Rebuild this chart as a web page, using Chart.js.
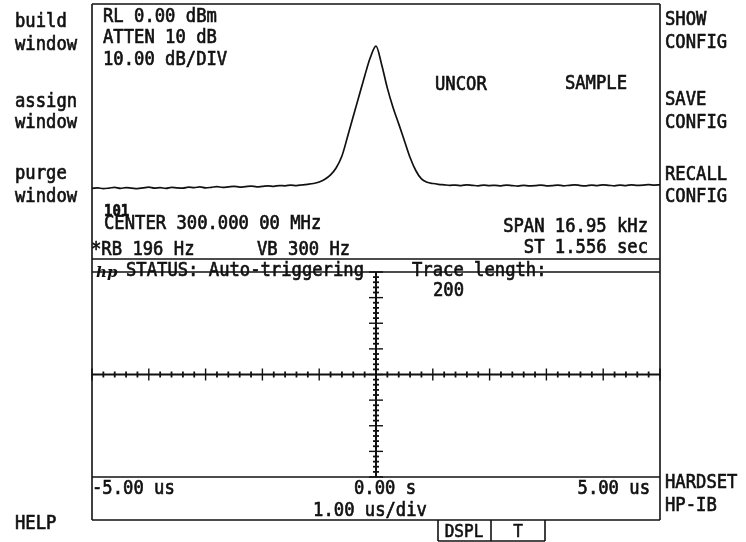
<!DOCTYPE html>
<html>
<head>
<meta charset="utf-8">
<script src="https://cdn.jsdelivr.net/npm/chart.js@4.4.1/dist/chart.umd.min.js"></script>
<style>
  html, body { margin: 0; padding: 0; background: #fff; }
  #wrap { position: relative; width: 746px; height: 542px; }
  #wrap canvas { position: absolute; left: 0; top: 0; }
</style>
</head>
<body>
<div id="wrap">
  <canvas id="specChart" width="746" height="542"></canvas>
  <canvas id="scopeChart" width="746" height="542"></canvas>
</div>
<script>
// spectrum analyzer settings
const centerMHz = 300.0;
const spanKHz = 16.95;
const refLevel = 0;       // dBm at top of screen
const dbPerDiv = 10;
const numDivs = 10;

// trace, dBm, 101 points across the span
const traceDbm = [
  -72.3, -72.1, -72.4, -72.2, -71.9, -72.3, -72.0, -72.2, -72.4, -72.1,
  -71.8, -72.2, -72.0, -72.3, -71.9, -72.1, -72.2, -71.8, -72.0, -71.7,
  -72.1, -71.9, -71.6, -71.9, -71.7, -71.5, -71.8, -71.6, -71.4, -71.7,
  -71.5, -71.3, -71.5, -71.2, -71.3, -71.0, -71.2, -70.9, -70.7, -70.4,
  -69.8, -68.7, -67.0, -64.2, -59.6, -52.0, -44.0, -36.2, -28.3, -21.0,
  -16.5,
  -23.8, -33.0, -40.6, -47.0, -53.6, -60.2, -65.3, -68.6, -69.9, -70.4,
  -70.7, -70.9, -71.1, -71.0, -71.2, -70.9, -71.1, -71.3, -71.0, -71.2,
  -71.1, -71.3, -71.0, -71.2, -71.4, -71.1, -71.3, -71.2, -71.0, -71.3,
  -71.2, -71.0, -71.3, -71.1, -70.9, -71.2, -71.3, -71.0, -71.2, -70.9,
  -71.1, -71.3, -71.0, -71.2, -70.9, -71.1, -71.0, -70.8, -71.0, -70.9
];
const mid = (traceDbm.length - 1) / 2;
const freqLabels = traceDbm.map((_, i) =>
  (centerMHz + (i - mid) * spanKHz / (traceDbm.length - 1) / 1000).toFixed(6));

// scope (time) window
const timeMin = -5, timeMax = 5;    // us
const vertMin = -4, vertMax = 4;    // divisions
const subDiv = 0.2;
const timeTickValues = [-5, 0, 5];
const timeTickLabels = ['-5.00 us', '0.00 s', '5.00 us'];

const FONT = '"DejaVu Sans Mono", "Liberation Mono", monospace';
const INK = '#111';

// plotter-ish text: monospace, a little taller than wide
function put(ctx, s, x, y, align, size, weight) {
  ctx.save();
  ctx.font = (weight || 'normal') + ' ' + (size || 17.2) + 'px ' + FONT;
  ctx.textAlign = align || 'left';
  ctx.translate(x, y);
  ctx.scale(1, 1.1);
  ctx.lineWidth = 0.6;
  ctx.fillText(s, 0, 0);
  ctx.strokeText(s, 0, 0);
  ctx.restore();
}

function seg(ctx, x1, y1, x2, y2, w) {
  ctx.lineWidth = w || 1.6;
  ctx.beginPath();
  ctx.moveTo(x1, y1);
  ctx.lineTo(x2, y2);
  ctx.stroke();
}

const screenPlugin = {
  id: 'screen',
  afterDraw(chart) {
    const ctx = chart.ctx;
    const xs = chart.scales.x, ys = chart.scales.y;
    const a = chart.chartArea;
    ctx.save();
    ctx.strokeStyle = INK;
    ctx.fillStyle = INK;
    ctx.textBaseline = 'alphabetic';

    // outer frame and panel separators
    seg(ctx, a.left, 4, a.left, 520);
    seg(ctx, a.right, 4, a.right, 520);
    seg(ctx, a.left, 4, a.right, 4);
    seg(ctx, a.left, 259, a.right, 259);
    seg(ctx, a.left, a.bottom, a.right, a.bottom);
    seg(ctx, a.left, 520, a.right, 520);

    // softkey box at bottom
    seg(ctx, 438, 520, 438, 541);
    seg(ctx, 491, 520, 491, 541);
    seg(ctx, 545, 520, 545, 541);
    seg(ctx, 438, 541, 545, 541);

    // center cross with tick marks
    const x0 = xs.getPixelForValue(0), y0 = ys.getPixelForValue(0);
    seg(ctx, a.left, y0, a.right, y0, 2);
    seg(ctx, x0, a.top, x0, a.bottom, 2);
    for (let v = timeMin; v <= timeMax + 1e-9; v += subDiv) {
      const major = Math.abs(v - Math.round(v)) < 1e-6;
      const len = major ? 6 : 3;
      const px = xs.getPixelForValue(v);
      seg(ctx, px, y0 - len, px, y0 + len, major ? 1.4 : 1.8);
    }
    for (let v = vertMin; v <= vertMax + 1e-9; v += subDiv) {
      const major = Math.abs(v - Math.round(v)) < 1e-6;
      const len = major ? 7 : 3;
      const py = ys.getPixelForValue(v);
      seg(ctx, x0 - len, py, x0 + len, py, major ? 1.4 : 1.8);
    }

    // time axis labels
    timeTickValues.forEach((v, i) => {
      const px = xs.getPixelForValue(v);
      if (i === 0) put(ctx, timeTickLabels[i], px, 494, 'left');
      else if (i === timeTickValues.length - 1) put(ctx, timeTickLabels[i], px - 10, 494, 'right');
      else put(ctx, timeTickLabels[i], px - 22, 494, 'left');
    });
    put(ctx, '1.00 us/div', 370, 516, 'center');

    // softkeys
    put(ctx, 'build', 15, 27);
    put(ctx, 'window', 15, 50);
    put(ctx, 'assign', 15, 107);
    put(ctx, 'window', 15, 128);
    put(ctx, 'purge', 15, 179);
    put(ctx, 'window', 15, 202);
    put(ctx, 'HELP', 15, 529);
    put(ctx, 'SHOW', 665, 25);
    put(ctx, 'CONFIG', 665, 48);
    put(ctx, 'SAVE', 665, 105);
    put(ctx, 'CONFIG', 665, 128);
    put(ctx, 'RECALL', 665, 180);
    put(ctx, 'CONFIG', 665, 202);
    put(ctx, 'HARDSET', 665, 488);
    put(ctx, 'HP-IB', 665, 511);

    // analyzer annotations
    put(ctx, 'RL ' + refLevel.toFixed(2) + ' dBm', 103, 22);
    put(ctx, 'ATTEN 10 dB', 103, 43);
    put(ctx, dbPerDiv.toFixed(2) + ' dB/DIV', 103, 65);
    put(ctx, 'UNCOR', 435, 90);
    put(ctx, 'SAMPLE', 627, 89, 'right');
    put(ctx, '101', 104, 216, 'left', 14, 'bold');
    put(ctx, 'CENTER 300.000 00 MHz', 104, 229);
    put(ctx, 'SPAN ' + spanKHz.toFixed(2) + ' kHz', 648, 232, 'right');
    put(ctx, '*RB 196 Hz', 91, 255);
    put(ctx, 'VB 300 Hz', 257, 255);
    put(ctx, 'ST 1.556 sec', 648, 253, 'right');

    // status line
    ctx.font = 'italic bold 15px "DejaVu Serif", serif';
    ctx.textAlign = 'left';
    ctx.fillText('hp', 96, 277);
    put(ctx, 'STATUS: Auto-triggering', 126, 276);
    put(ctx, 'Trace length:', 412, 276);
    put(ctx, '200', 433, 296);
    seg(ctx, a.left, a.top, a.right, a.top);

    // softkey box labels
    put(ctx, 'DSPL', 464, 537, 'center', 16);
    put(ctx, 'T', 518, 537, 'center', 16);
    ctx.restore();
  }
};

new Chart(document.getElementById('specChart'), {
  type: 'line',
  data: {
    labels: freqLabels,
    datasets: [{
      data: traceDbm,
      borderColor: INK,
      borderWidth: 1.7,
      pointRadius: 0,
      cubicInterpolationMode: 'monotone',
      fill: false
    }]
  },
  options: {
    responsive: false,
    animation: false,
    devicePixelRatio: 1,
    layout: { padding: { left: 92, right: 86, top: 4, bottom: 283 } },
    plugins: { legend: { display: false }, tooltip: { enabled: false } },
    scales: {
      x: { display: false },
      y: { display: false, min: refLevel - numDivs * dbPerDiv, max: refLevel }
    }
  }
});

new Chart(document.getElementById('scopeChart'), {
  type: 'scatter',
  data: { datasets: [] },
  options: {
    responsive: false,
    animation: false,
    devicePixelRatio: 1,
    layout: { padding: { left: 92, right: 86, top: 272, bottom: 65 } },
    plugins: { legend: { display: false }, tooltip: { enabled: false } },
    scales: {
      x: { type: 'linear', display: false, min: timeMin, max: timeMax },
      y: { type: 'linear', display: false, min: vertMin, max: vertMax }
    }
  },
  plugins: [screenPlugin]
});
</script>
</body>
</html>
